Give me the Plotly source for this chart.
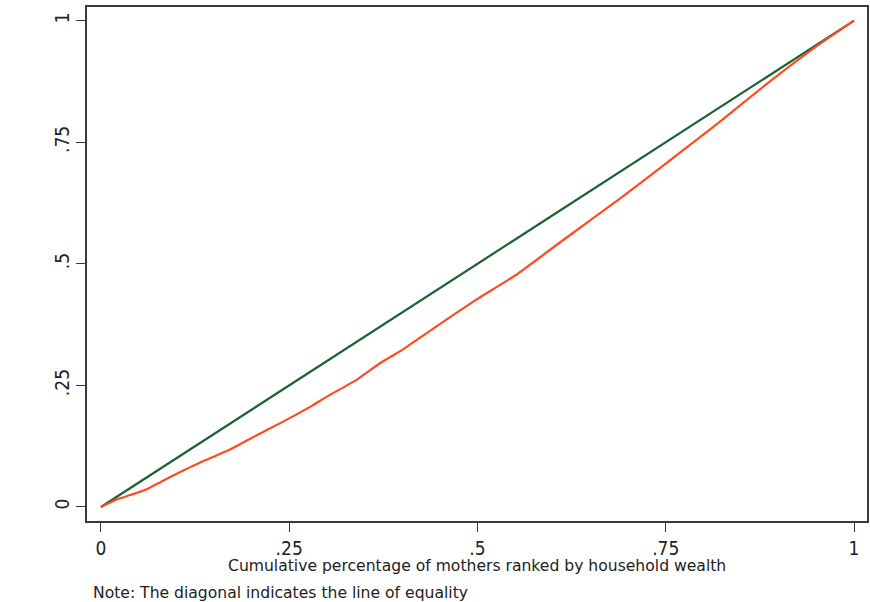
import plotly.graph_objects as go

# Data
equality_x = [0, 1]
equality_y = [0, 1]

lorenz_x = [0, 0.02, 0.04, 0.06, 0.08, 0.10, 0.12, 0.14, 0.17, 0.20, 0.24, 0.28, 0.30,
            0.34, 0.37, 0.40, 0.435, 0.47, 0.50, 0.55, 0.60, 0.65, 0.69, 0.75, 0.82,
            0.885, 0.95, 1.0]
lorenz_y = [0, 0.015, 0.025, 0.036, 0.052, 0.068, 0.083, 0.097, 0.117, 0.142, 0.174,
            0.208, 0.227, 0.262, 0.295, 0.323, 0.360, 0.397, 0.428, 0.476, 0.533, 0.590,
            0.635, 0.706, 0.790, 0.871, 0.947, 1.0]

tick_vals = [0, 0.25, 0.5, 0.75, 1]
tick_text = ["0", ".25", ".5", ".75", "1"]

x_title = "Cumulative percentage of mothers ranked by household wealth"
note = "Note: The diagonal indicates the line of equality"

FONT = "DejaVu Sans"
TICKFONT = "DejaVu Sans Condensed"
AXC = "#3a3a3a"
TXT = "#222222"

fig = go.Figure()
fig.add_trace(go.Scatter(x=equality_x, y=equality_y, mode="lines",
                         line=dict(color="#1b6331", width=2.2), showlegend=False))
fig.add_trace(go.Scatter(x=lorenz_x, y=lorenz_y, mode="lines",
                         line=dict(color="#ff4b1f", width=2.2, shape="spline", smoothing=0.6),
                         showlegend=False))

fig.update_layout(
    width=870, height=602,
    margin=dict(l=87, r=1, t=7, b=81),
    paper_bgcolor="white", plot_bgcolor="white",
    font=dict(family=FONT, color=TXT),
    xaxis=dict(range=[-0.0185, 1.0172], tickvals=tick_vals, ticktext=tick_text,
               showgrid=False, zeroline=False, showline=True, linecolor=AXC, linewidth=1.5,
               mirror=True, ticks="outside", ticklen=9, tickcolor=AXC, tickwidth=1.2,
               tickfont=dict(size=19, family=TICKFONT, color=TXT)),
    yaxis=dict(range=[-0.0288, 1.028], tickvals=tick_vals, ticktext=tick_text,
               showgrid=False, zeroline=False, showline=True, linecolor=AXC, linewidth=1.5,
               mirror=True, ticks="outside", ticklen=9, tickcolor=AXC, tickwidth=1.2,
               tickangle=-90, tickfont=dict(size=19, family=TICKFONT, color=TXT)),
    annotations=[
        dict(text=x_title, xref="paper", yref="paper", x=0.5, y=-0.0875,
             xanchor="center", yanchor="middle", showarrow=False,
             font=dict(size=15.6, family=FONT, color=TXT)),
        dict(text=note, xref="paper", yref="paper", x=0.005, y=-0.14,
             xanchor="left", yanchor="middle", showarrow=False,
             font=dict(size=15.6, family=FONT, color=TXT)),
    ],
)

fig.write_html("out.html", config={"displayModeBar": False},
               post_script="document.body.style.margin='0';document.body.style.overflow='hidden';")
